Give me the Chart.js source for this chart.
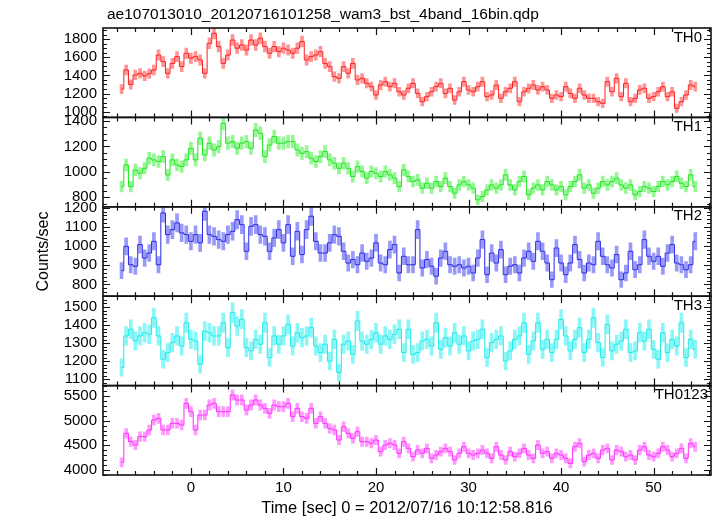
<!DOCTYPE html>
<html>
<head>
<meta charset="utf-8">
<script src="https://cdn.jsdelivr.net/npm/chart.js@4.4.1/dist/chart.umd.min.js"></script>
<style>
  html, body { margin: 0; padding: 0; background: #fff; }
  #chartTH { display: block; }
</style>
</head>
<body>
<canvas id="chartTH" width="717" height="516"></canvas>
<script>
const titleText = 'ae107013010_20120716101258_wam3_bst_4band_16bin.qdp'
const xTitle = 'Time [sec] 0 = 2012/07/16 10:12:58.816'
const yTitle = 'Counts/sec'

// bin centres, seconds from 10:12:58.816
const timeSec = [
  -7.5, -7, -6.5, -6, -5.5, -5, -4.5, -4, -3.5, -3, -2.5, -2, -1.5, -1, -0.5,
  0, 0.5, 1, 1.5, 2, 2.5, 3, 3.5, 4, 4.5, 5, 5.5, 6, 6.5, 7, 7.5, 8, 8.5, 9, 9.5,
  10, 10.5, 11, 11.5, 12, 12.5, 13, 13.5, 14, 14.5, 15, 15.5, 16, 16.5, 17, 17.5,
  18, 18.5, 19, 19.5, 20, 20.5, 21, 21.5, 22, 22.5, 23, 23.5, 24, 24.5, 25, 25.5,
  26, 26.5, 27, 27.5, 28, 28.5, 29, 29.5, 30, 30.5, 31, 31.5, 32, 32.5, 33, 33.5,
  34, 34.5, 35, 35.5, 36, 36.5, 37, 37.5, 38, 38.5, 39, 39.5, 40, 40.5, 41, 41.5,
  42, 42.5, 43, 43.5, 44, 44.5, 45, 45.5, 46, 46.5, 47, 47.5, 48, 48.5, 49, 49.5,
  50, 50.5, 51, 51.5, 52, 52.5, 53, 53.5, 54, 54.5,
]

const th0 = [
  1250, 1460, 1300, 1405, 1423, 1394, 1420, 1460, 1625, 1552,
  1423, 1533, 1607, 1497, 1644, 1590, 1607, 1570, 1423, 1754,
  1865, 1718, 1533, 1625, 1790, 1700, 1736, 1680, 1790, 1736,
  1810, 1718, 1644, 1718, 1662, 1700, 1680, 1644, 1700, 1773,
  1570, 1607, 1625, 1662, 1533, 1497, 1386, 1368, 1497, 1423,
  1533, 1350, 1368, 1313, 1276, 1184, 1294, 1331, 1276, 1313,
  1220, 1184, 1258, 1313, 1202, 1110, 1166, 1220, 1276, 1313,
  1202, 1258, 1129, 1220, 1331, 1240, 1220, 1276, 1331, 1166,
  1184, 1294, 1147, 1220, 1258, 1331, 1110, 1220, 1258, 1294,
  1240, 1276, 1240, 1147, 1184, 1166, 1276, 1202, 1147, 1258,
  1184, 1147, 1147, 1110, 1092, 1331, 1220, 1368, 1166, 1313,
  1110, 1147, 1240, 1258, 1147, 1166, 1220, 1276, 1166, 1220,
  1037, 1110, 1184, 1294, 1276,
]
const th1 = [
  884, 1054, 884, 1015, 989, 1028, 1107, 1094, 1081, 1120,
  976, 1094, 1054, 1041, 1094, 1185, 1094, 1264, 1133, 1225,
  1172, 1198, 1382, 1225, 1238, 1185, 1225, 1238, 1185, 1329,
  1303, 1120, 1211, 1277, 1225, 1225, 1238, 1238, 1172, 1146,
  1159, 1107, 1081, 1120, 1159, 1094, 1068, 1028, 1068, 1028,
  963, 1041, 1002, 950, 1002, 989, 963, 1002, 976, 950,
  884, 1015, 963, 924, 937, 871, 910, 871, 924, 884,
  950, 884, 832, 897, 924, 897, 871, 780, 806, 858,
  897, 871, 897, 976, 897, 858, 924, 963, 819, 871,
  897, 858, 924, 897, 858, 884, 819, 884, 924, 976,
  871, 897, 832, 871, 924, 897, 924, 950, 897, 871,
  897, 819, 845, 884, 871, 845, 884, 924, 897, 924,
  963, 910, 884, 976, 884,
]
const th2 = [
  872, 999, 903, 895, 1008, 938, 964, 1025, 903, 1173,
  1060, 1086, 1121, 1069, 1060, 1025, 1060, 1017, 1182, 1060,
  1051, 1034, 1025, 1060, 1077, 1138, 1112, 973, 1103, 1112,
  1060, 1051, 973, 1043, 1086, 1017, 1112, 947, 1077, 956,
  1086, 1156, 1025, 964, 964, 1017, 1060, 1051, 973, 912,
  930, 903, 964, 921, 938, 1017, 912, 903, 982, 1008,
  860, 947, 903, 903, 1086, 886, 930, 895, 843, 938,
  973, 903, 895, 903, 886, 895, 860, 938, 1034, 851,
  964, 912, 982, 851, 895, 903, 860, 938, 973, 921,
  1025, 973, 912, 825, 990, 912, 851, 912, 1008, 930,
  860, 912, 903, 1025, 947, 903, 886, 956, 825, 860,
  973, 877, 903, 1034, 947, 921, 947, 895, 964, 1008,
  912, 903, 877, 903, 1025,
]
const th3 = [
  1165, 1340, 1377, 1312, 1340, 1358, 1349, 1441, 1340, 1211,
  1248, 1303, 1340, 1284, 1413, 1321, 1312, 1183, 1367, 1358,
  1340, 1340, 1413, 1275, 1469, 1395, 1432, 1275, 1257, 1321,
  1294, 1413, 1220, 1340, 1294, 1340, 1404, 1284, 1358, 1330,
  1340, 1386, 1284, 1248, 1294, 1201, 1321, 1137, 1294, 1312,
  1238, 1423, 1312, 1294, 1321, 1358, 1294, 1340, 1321, 1349,
  1377, 1248, 1377, 1238, 1248, 1312, 1321, 1284, 1413, 1266,
  1330, 1284, 1358, 1294, 1340, 1257, 1312, 1321, 1377, 1220,
  1303, 1321, 1340, 1201, 1257, 1321, 1340, 1413, 1238, 1312,
  1413, 1266, 1321, 1248, 1321, 1432, 1340, 1257, 1321, 1386,
  1248, 1321, 1441, 1303, 1220, 1404, 1257, 1294, 1312, 1377,
  1248, 1257, 1358, 1312, 1377, 1266, 1211, 1358, 1248, 1321,
  1284, 1413, 1220, 1321, 1266,
]
const th0123 = [
  4155, 4743, 4574, 4507, 4676, 4676, 4811, 5014, 5047, 4811,
  4811, 4946, 4946, 4912, 5351, 5182, 4811, 5115, 5115, 5318,
  5351, 5182, 5182, 5182, 5520, 5419, 5419, 5216, 5318, 5419,
  5318, 5250, 5149, 5318, 5284, 5284, 5351, 5081, 5250, 5081,
  5047, 5250, 4946, 5081, 4946, 4845, 4811, 4608, 4878, 4743,
  4642, 4777, 4574, 4574, 4541, 4608, 4372, 4507, 4541, 4507,
  4338, 4574, 4439, 4270, 4405, 4338, 4439, 4236, 4304, 4372,
  4439, 4372, 4203, 4338, 4473, 4338, 4304, 4338, 4405, 4338,
  4236, 4473, 4304, 4203, 4372, 4270, 4338, 4439, 4304, 4236,
  4507, 4338, 4372, 4236, 4338, 4304, 4236, 4135, 4473, 4541,
  4169, 4304, 4338, 4236, 4405, 4439, 4203, 4405, 4372, 4270,
  4304, 4203, 4405, 4473, 4304, 4270, 4338, 4473, 4405, 4270,
  4338, 4439, 4236, 4541, 4473,
]

const panelNames = ['TH0', 'TH1', 'TH2', 'TH3', 'TH0123']
const xTickLabels = [0, 10, 20, 30, 40, 50]
const th0Ticks = [1000, 1200, 1400, 1600, 1800]
const th1Ticks = [800, 1000, 1200, 1400]
const th2Ticks = [800, 900, 1000, 1100, 1200]
const th3Ticks = [1100, 1200, 1300, 1400, 1500]
const th0123Ticks = [4000, 4500, 5000, 5500]

const binSec = 0.5
const fontFamily = '"Liberation Sans", Arial, Helvetica, sans-serif'
const plotLeft = 103
const plotRight = 711

const panels = [
  { id: 'yTH0', values: th0, ticks: th0Ticks, min: 937, max: 1923, minor: 50,
    line: '#ff1e1e', err: 'rgba(255,60,60,0.55)', labelRight: 702 },
  { id: 'yTH1', values: th1, ticks: th1Ticks, min: 725, max: 1428, minor: 50,
    line: '#1ee61e', err: 'rgba(60,240,60,0.55)', labelRight: 702 },
  { id: 'yTH2', values: th2, ticks: th2Ticks, min: 739, max: 1205, minor: 20,
    line: '#2828e6', err: 'rgba(70,70,240,0.55)', labelRight: 702 },
  { id: 'yTH3', values: th3, ticks: th3Ticks, min: 1065, max: 1560, minor: 20,
    line: '#1eeaea', err: 'rgba(60,240,240,0.6)', labelRight: 702 },
  { id: 'yTH0123', values: th0123, ticks: th0123Ticks, min: 3899, max: 5711, minor: 100,
    line: '#ff2cff', err: 'rgba(255,70,255,0.55)', labelRight: 708 },
]

const datasets = []
panels.forEach(p => {
  datasets.push({
    type: 'bar',
    yAxisID: p.id,
    grouped: false,
    barThickness: 3,
    backgroundColor: p.err,
    borderWidth: 0,
    order: 2,
    data: timeSec.map((t, i) => {
      const e = Math.sqrt(p.values[i] / binSec)
      return { x: t, y: [p.values[i] - e, p.values[i] + e] }
    }),
  })
  datasets.push({
    type: 'line',
    yAxisID: p.id,
    borderColor: p.line,
    borderWidth: 1,
    pointRadius: 0,
    stepped: 'middle',
    order: 1,
    data: timeSec.map((t, i) => ({ x: t, y: p.values[i] })),
  })
})

const tickFont = { family: fontFamily, size: 15 }

const scales = {
  x: {
    type: 'linear',
    position: 'bottom',
    offset: false,
    min: -9.5,
    max: 56.2,
    grid: { display: false, drawTicks: false, offset: false },
    border: { display: false },
    afterBuildTicks: s => { s.ticks = xTickLabels.map(v => ({ value: v })) },
    afterFit: s => { s.height = 41 },
    ticks: { autoSkip: false, maxRotation: 0, padding: 4, color: '#000', font: tickFont,
      callback: v => String(v) },
  },
}
// last defined stacked axis is placed on top, so add them bottom-up
panels.slice().reverse().forEach(p => {
  scales[p.id] = {
    type: 'linear',
    position: 'left',
    stack: 'panels',
    stackWeight: 1,
    min: p.min,
    max: p.max,
    grid: { display: false, drawTicks: false },
    border: { display: false },
    afterBuildTicks: s => { s.ticks = p.ticks.map(v => ({ value: v })) },
    afterFit: s => { s.width = plotLeft },
    ticks: { autoSkip: false, padding: 6, color: '#000', font: tickFont,
      callback: v => String(v) },
  }
})

// pin the axes to the plot frame after Chart.js has laid out the stack
const pinAxes = {
  id: 'pinAxes',
  afterLayout: chart => {
    const xs = chart.scales.x
    xs.left = plotLeft
    xs.right = plotRight
    xs.width = plotRight - plotLeft
    xs.configure()
    xs._labelItems = null
    panels.forEach(p => {
      const ys = chart.scales[p.id]
      ys.left = 0
      ys.right = plotLeft
      ys.width = plotLeft
      ys._labelItems = null
    })
  },
}

const qdpFrame = {
  id: 'qdpFrame',
  afterDraw: chart => {
    const ctx = chart.ctx
    const left = plotLeft
    const right = plotRight
    const xs = chart.scales.x
    ctx.save()
    ctx.strokeStyle = '#111'
    panels.forEach((p, k) => {
      const ys = chart.scales[p.id]
      const top = ys.top
      const bottom = ys.bottom
      ctx.lineWidth = 1.2
      ctx.beginPath()
      for (let t = -8; t <= 56; t += 2) {
        const px = Math.round(xs.getPixelForValue(t)) + 0.5
        const len = t % 10 === 0 ? 7 : 4
        ctx.moveTo(px, top); ctx.lineTo(px, top + len)
        ctx.moveTo(px, bottom); ctx.lineTo(px, bottom - len)
      }
      const start = Math.ceil(p.min / p.minor) * p.minor
      for (let v = start; v <= p.max; v += p.minor) {
        const py = Math.round(ys.getPixelForValue(v)) + 0.5
        const len = p.ticks.includes(v) ? 7 : 4
        ctx.moveTo(left, py); ctx.lineTo(left + len, py)
        ctx.moveTo(right, py); ctx.lineTo(right - len, py)
      }
      ctx.stroke()
      ctx.lineWidth = 1.6
      ctx.strokeRect(left, top, right - left, bottom - top)

      ctx.fillStyle = '#000'
      ctx.font = '15px ' + fontFamily
      ctx.textAlign = 'right'
      ctx.textBaseline = 'top'
      ctx.fillText(panelNames[k], p.labelRight, top + 2)
    })

    ctx.fillStyle = '#000'
    ctx.font = '15.5px ' + fontFamily
    ctx.textAlign = 'left'
    ctx.textBaseline = 'alphabetic'
    ctx.fillText(titleText, 107, 19)

    ctx.font = '16.5px ' + fontFamily
    ctx.textAlign = 'center'
    ctx.fillText(xTitle, (left + right) / 2, 513)

    ctx.font = '16px ' + fontFamily
    ctx.translate(48, (chart.chartArea.top + chart.chartArea.bottom) / 2)
    ctx.rotate(-Math.PI / 2)
    ctx.fillText(yTitle, 0, 0)
    ctx.restore()
  },
}

new Chart(document.getElementById('chartTH'), {
  type: 'line',
  data: { datasets },
  plugins: [pinAxes, qdpFrame],
  options: {
    animation: false,
    responsive: false,
    devicePixelRatio: 1,
    layout: { padding: { top: 28, right: 6, left: 0, bottom: 0 } },
    plugins: { legend: { display: false }, tooltip: { enabled: false } },
    scales,
  },
})
</script>
</body>
</html>
